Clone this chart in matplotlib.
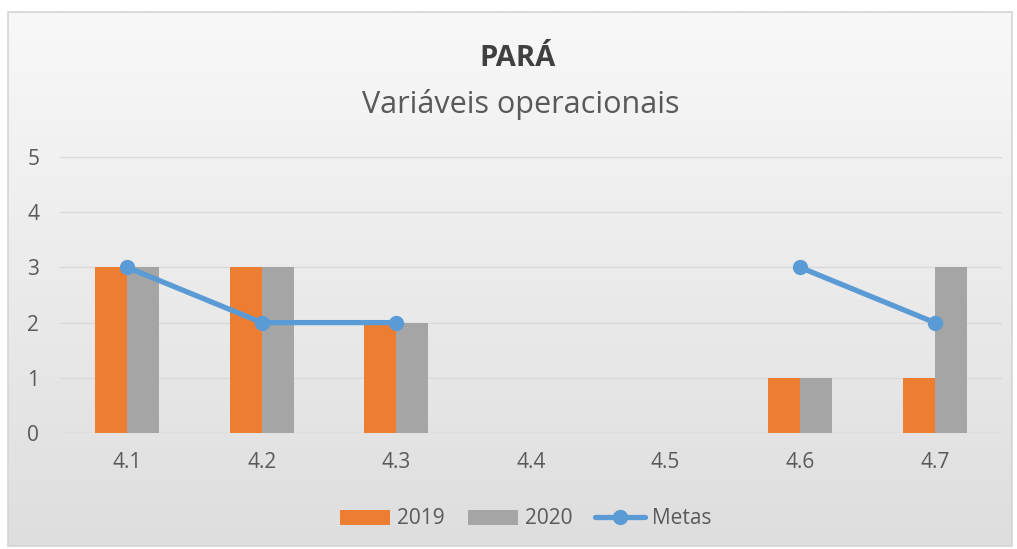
import numpy as np
import matplotlib
matplotlib.use("Agg")
import matplotlib.pyplot as plt
from matplotlib.patches import Rectangle
from matplotlib.colors import LinearSegmentedColormap

categories = ["4.1", "4.2", "4.3", "4.4", "4.5", "4.6", "4.7"]
v2019 = [3, 3, 2, 0, 0, 1, 1]
v2020 = [3, 3, 2, 0, 0, 1, 3]
metas = [3, 2, 2, np.nan, np.nan, 3, 2]
yticks = [0, 1, 2, 3, 4, 5]

plt.rcParams['font.family'] = ['Open Sans', 'DejaVu Sans']

W, H = 1017, 549
fig = plt.figure(figsize=(W / 100, H / 100), dpi=100)
fig.patch.set_facecolor("white")

# background gradient chart area
bg = fig.add_axes([0, 0, 1, 1], zorder=0)
bg.set_xlim(0, W)
bg.set_ylim(H, 0)
bg.axis("off")
grad = np.linspace(0, 1, 256).reshape(-1, 1)
cmap = LinearSegmentedColormap.from_list("g", ["#f8f8f8", "#dedede"])
bg.imshow(grad, cmap=cmap, aspect="auto", extent=[8, 1012, 546, 12], zorder=0)
bg.add_patch(Rectangle((8, 12), 1004, 534, fill=False, edgecolor="#d4d4d4", lw=1.2, zorder=1))

ax = fig.add_axes([60 / W, 1 - 433 / H, (1002 - 60) / W, (433 - 157) / H], zorder=2)
ax.patch.set_alpha(0)
x = np.arange(len(categories))
bw = 0.238
b1 = ax.bar(x - bw / 2, v2019, bw, color="#ed7d31", label="2019", zorder=3)
b2 = ax.bar(x + bw / 2, v2020, bw, color="#a5a5a5", label="2020", zorder=3)
l1, = ax.plot(x, metas, color="#5b9bd5", lw=3.8, marker="o", ms=10, label="Metas", zorder=4,
              solid_capstyle="round")

ax.set_xlim(-0.5, len(categories) - 0.5)
ax.set_ylim(0, 5)
ax.set_yticks(yticks)
ax.set_xticks(x)
ax.set_xticklabels(categories)
ax.yaxis.grid(True, color="#d9d9d9", lw=1, zorder=0)
ax.set_axisbelow(True)
for s in ax.spines.values():
    s.set_visible(False)
ax.tick_params(axis="both", length=0, labelsize=15, colors="#595959")
ax.tick_params(axis="x", pad=14)
ax.tick_params(axis="y", pad=15)
ax.axhline(0, color="#d9d9d9", lw=1, zorder=1)

fig.text(518 / W, 1 - 58 / H, "PARÁ", ha="center", va="center", fontsize=21,
         fontweight="bold", color="#404040")
fig.text(521 / W, 1 - 104 / H, "Variáveis operacionais", ha="center", va="center",
         fontsize=22, color="#595959")

leg = ax.legend([b1, b2, l1], ["2019", "2020", "Metas"], loc="center",
                bbox_to_anchor=(526 / W, 1 - 519 / H),
                bbox_transform=fig.transFigure, ncol=3, frameon=False,
                fontsize=15, handlelength=2.4, handletextpad=0.33, columnspacing=1.1)
for t in leg.get_texts():
    t.set_color("#595959")

fig.savefig("out.png", dpi=100, facecolor=fig.get_facecolor())
